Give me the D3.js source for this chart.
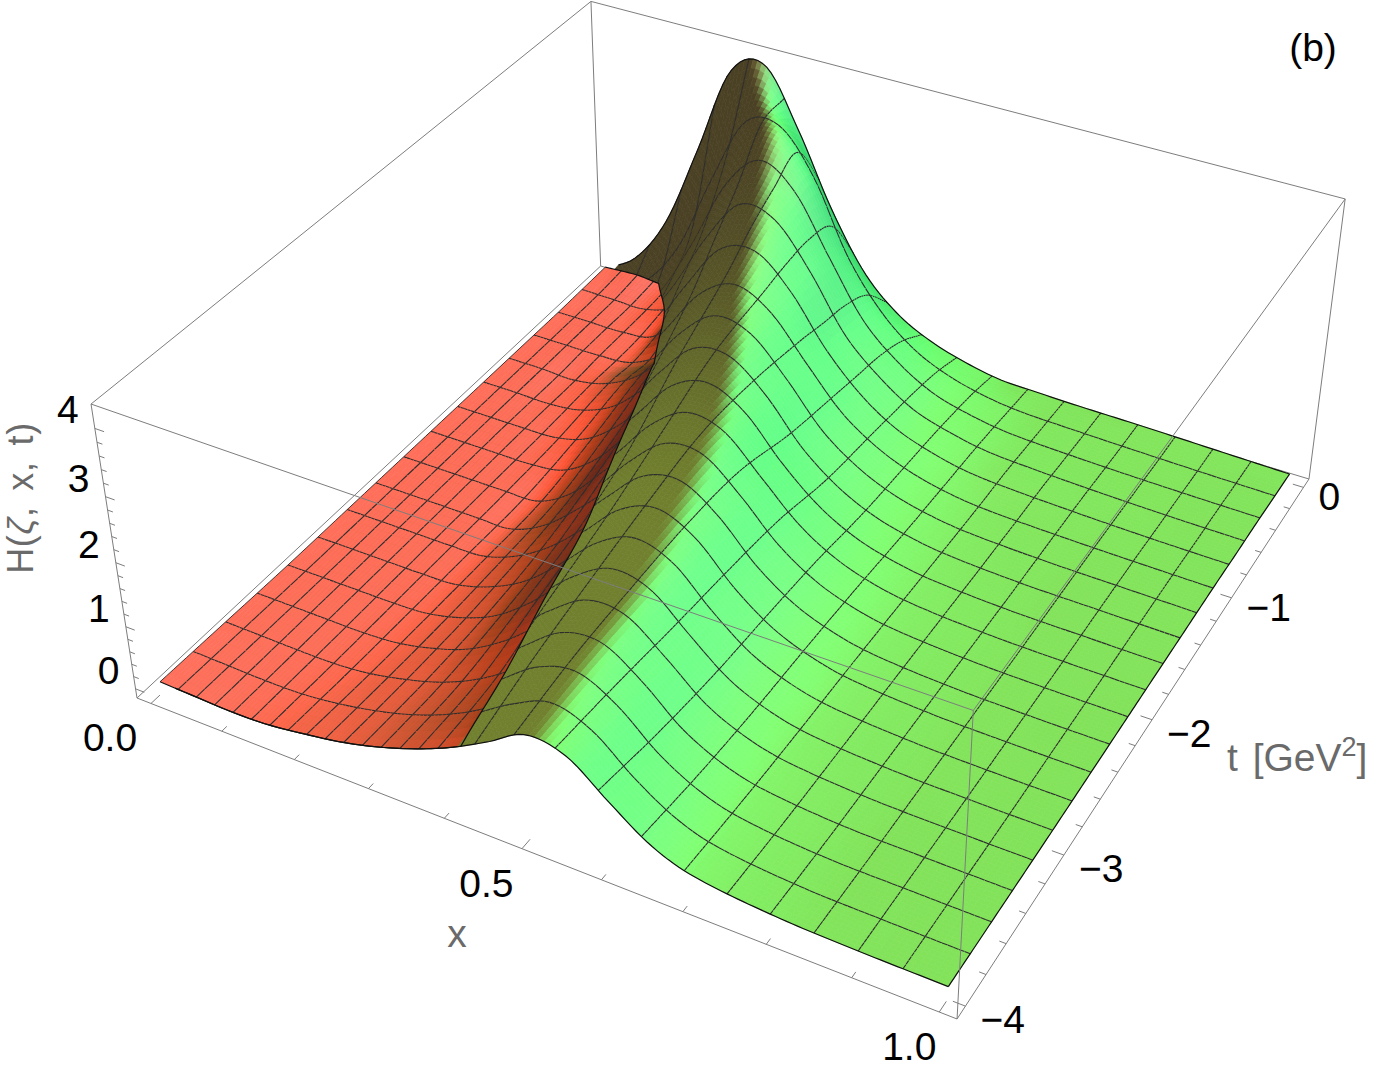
<!DOCTYPE html>
<html>
<head>
<meta charset="utf-8">
<script src="https://cdn.jsdelivr.net/npm/d3@7"></script>
<style>
  html, body { margin: 0; padding: 0; background: #fff; }
  svg { display: block; }
  text { font-family: "Liberation Sans", Arial, sans-serif; }
</style>
</head>
<body>
<div id="div_plot"></div>
<script>
// knots of the height tables
var xKnots = [0, .05, .1, .15, .2, .25, .3, .35, .4, .45, .5, .55, .6, .65, .7, .8, .9, 1];
var tKnots = [0, -.25, -.5, -.75, -1, -1.5, -2, -2.5, -3, -3.5, -4];

// H along x for each t, outer (green) sheet
var green0   = [0, .36, 1.17, 2.53, 3.95, 4.2, 3.3, 2.15, 1.25, .72, .42, .24, .125, .1, .08, .06, .03, 0];
var green025 = [.02, .11, .38, 1.06, 2.28, 3.45, 3.68, 3.08, 1.95, 1.16, .66, .38, .22, .13, .1, .06, .03, .01];
var green05  = [.01, .06, .23, .69, 1.57, 2.62, 3.25, 3, 2.22, 1.34, .82, .46, .28, .17, .12, .07, .04, .02];
var green075 = [0, .03, .16, .48, 1.16, 2.06, 2.8, 2.83, 2.26, 1.45, .9, .52, .32, .19, .14, .08, .04, .02];
var green1   = [0, .02, .09, .3, .77, 1.55, 2.3, 2.58, 2.26, 1.59, .97, .58, .34, .2, .13, .08, .05, .03];
var green15  = [0, 0, .03, .12, .36, .87, 1.57, 2.16, 2.23, 1.8, 1.14, .68, .39, .23, .14, .07, .05, .03];
var green2   = [0, 0, 0, .02, .13, .38, .9, 1.55, 1.99, 1.95, 1.45, .88, .5, .28, .16, .07, .04, .03];
var green25  = [0, 0, 0, .01, .07, .23, .59, 1.11, 1.65, 1.85, 1.57, .99, .56, .31, .17, .07, .04, .03];
var green3   = [0, 0, 0, 0, .05, .14, .39, .83, 1.33, 1.67, 1.58, 1.09, .6, .32, .17, .07, .04, .03];
var green35  = [.02, .01, 0, 0, .05, .17, .3, .57, 1.03, 1.45, 1.56, 1.23, .71, .37, .19, .07, .05, .04];
var green4   = [.04, .02, 0, .02, .1, .2, .35, .55, .8, 1.12, 1.46, 1.36, .9, .47, .24, .1, .06, .05];
var greenRows = [green0, green025, green05, green075, green1, green15, green2, green25, green3, green35, green4];

// inner (red) sheet, its own x knots
var redKnots = [0, .05, .1, .15, .2, .25, .3, .35, .4, .45, .5];
var red0   = [.02, .05, .03, .3, .9, 1.6, 2.2, 2.6, 2.8, 2.9, 3];
var red025 = [.01, 0, 0, .22, .8, 1.5, 2.1, 2.6, 2.8, 2.9, 3];
var red05  = [0, 0, 0, .1, .7, 1.4, 2.1, 2.6, 2.8, 2.9, 3];
var red075 = [0, 0, 0, .05, .37, 1, 1.7, 2.2, 2.5, 2.7, 2.8];
var red1   = [0, 0, -.02, .1, .42, 1, 1.6, 2.1, 2.4, 2.6, 2.7];
var red15  = [0, 0, 0, .02, .2, .65, 1.3, 1.9, 2.2, 2.3, 2.3];
var red2   = [0, 0, 0, 0, .02, .35, .93, 1.5, 1.95, 2, 2];
var red25  = [0, 0, 0, 0, .02, .23, .6, 1.12, 1.7, 1.85, 1.85];
var red3   = [0, 0, 0, 0, .03, .17, .42, .85, 1.38, 1.65, 1.7];
var red35  = [.02, .01, 0, 0, .05, .17, .34, .6, .97, 1.45, 1.55];
var red4   = [.04, .02, 0, .02, .1, .2, .35, .55, .8, 1.12, 1.45];
var redRows = [red0, red025, red05, red075, red1, red15, red2, red25, red3, red35, red4];

// where the red sheet stops and where the dark band ends, one value per t knot
var redEdge = [.085, .13, .16, .188, .22, .262, .305, .345, .3726, .393, .415];
var bandEdge = [.238, .29, .318, .34, .358, .41, .45, .475, .495, .505, .518];

// range of each sheet
var greenXRange = [.0215, 1];
var redXRange = [0, .41];

var xTicks = d3.range(0, 11).map(function(d) { return d / 10; });
var xTickLabels = ["0.0", "0.5", "1.0"];
var tTicks = d3.range(0, 21).map(function(d) { return -d / 5; });
var tTickLabels = ["0", "\u22121", "\u22122", "\u22123", "\u22124"];
var zTicks = d3.range(0, 21).map(function(d) { return d / 5; });
var zTickLabels = ["0", "1", "2", "3", "4"];

var width = 1376, height = 1076;

// plot range with its padding -> unit box
var u = d3.scaleLinear().domain([-.02, 1.02]).range([0, 1]);
var v = d3.scaleLinear().domain([-4.08, .08]).range([0, 1]);
var w = d3.scaleLinear().domain([-.15, 4.35]).range([0, 1]);

// perspective camera fitted on the eight corners of the box
function project(ub, vb, wb) {
  var xh = 709.8 * ub + 592.8 * vb - 52.2 * wb + 137;
  var yh = 203.6 * ub - 374.8 * vb - 321.6 * wb + 698;
  var wh = -.1152 * ub + .215 * vb - .0684 * wb + 1;
  return [xh / wh, yh / wh];
}
function pt(x, t, z) { return project(u(x), v(t), w(z)); }
function line(a, b) { return "M" + a[0].toFixed(2) + "," + a[1].toFixed(2) + "L" + b[0].toFixed(2) + "," + b[1].toFixed(2); }

// smooth curve through a row of read values, knots may be unevenly spaced
function along(values, knots, index, a) {
  var n = values.length, i = Math.max(0, Math.min(n - 2, Math.floor(index(a))));
  function slope(k) {
    var lo = Math.max(0, k - 1), hi = Math.min(n - 1, k + 1);
    return (values[hi] - values[lo]) / (knots[hi] - knots[lo]);
  }
  var h = knots[i + 1] - knots[i], s = (a - knots[i]) / h, s2 = s * s, s3 = s2 * s;
  return (2 * s3 - 3 * s2 + 1) * values[i] + (s3 - 2 * s2 + s) * h * slope(i)
    + (3 * s2 - 2 * s3) * values[i + 1] + (s3 - s2) * h * slope(i + 1);
}
var tIndex = d3.scaleLinear().domain(tKnots).range(d3.range(tKnots.length));
function surface(rows, knots) {
  var xIndex = d3.scaleLinear().domain(knots).range(d3.range(knots.length));
  return function(x, t) {
    return along(rows.map(function(r) { return along(r, knots, xIndex, x); }), tKnots, tIndex, t);
  };
}
function edgeAt(values, t) { return along(values, tKnots, tIndex, t); }

var greenH = surface(greenRows, xKnots);
var redH = surface(redRows, redKnots);

// directions of the lights and the view, as seen from the camera
var view = { r: [.878, .478, 0], up: [-.281, .515, .811], back: [.389, -.713, .585] };
function dot(a, b) { return a[0] * b[0] + a[1] * b[1] + a[2] * b[2]; }
var lightR = [-.15, .3, .94], lightG = [.515, .515, .686], lightB = [.6, .1, .79];
function lights(n) {
  var len = Math.sqrt(dot(n, n));
  var c = [dot(n, view.r) / len, dot(n, view.up) / len, dot(n, view.back) / len];
  return [Math.max(0, dot(c, lightR)), Math.max(0, dot(c, lightG)), Math.max(0, dot(c, lightB)), c[2]];
}
function smooth(a) { a = Math.max(0, Math.min(1, a)); return a * a * (3 - 2 * a); }
function rgb(r, g, b) { return d3.rgb(Math.min(1, r) * 255, Math.min(1, g) * 255, Math.min(1, b) * 255).formatHex(); }

function greenColor(n, x, t) {
  var l = lights(n);
  var r = .54 * (.312 + .8 * l[0]), g = 1.05 * (.188 + .8 * l[1]), b = .6 * (.15 + .8 * l[2]);
  var m = smooth((x - edgeAt(bandEdge, t) + .014) / .028);
  // the dark band goes from brown at the peak to olive at the front
  var a = smooth(-t / 2.6);
  var or = .29 + .15 * a, og = .25 + .25 * a, ob = .14 + .04 * a;
  return rgb(or + (r - or) * m, og + (g - og) * m, ob + (b - ob) * m);
}
function redColor(n) {
  var l = lights(n);
  return rgb(1.1 * (.312 + .8 * l[0]) * (.55 + .45 * smooth((l[3] - .15) / .4)),
    .52 * (.25 + .72 * l[1]),
    .6 * (.18 + .75 * l[2]));
}

// one sheet, far cells first, with the mesh edges drawn after the cells that touch them
function sheet(H, xRange, cells, subX, subT, colorOf) {
  var nx = cells * subX, nt = cells * subT, items = [];
  var xs = d3.range(nx + 1).map(function(i) { return xRange[0] + (xRange[1] - xRange[0]) * i / nx; });
  var ts = d3.range(nt + 1).map(function(j) { return -4 * j / nt; });
  var z = ts.map(function(t) { return xs.map(function(x) { return H(x, t); }); });
  var p = ts.map(function(t, j) { return xs.map(function(x, i) { return pt(x, t, z[j][i]); }); });
  var du = u(xs[1]) - u(xs[0]), dv = v(ts[1]) - v(ts[0]), zs = .4 * (w(1) - w(0));
  for (var j = 0; j < nt; j++) {
    for (var i = 0; i < nx; i++) {
      var a = p[j][i], b = p[j][i + 1], c = p[j + 1][i + 1], d = p[j + 1][i];
      var n = [-zs * (z[j][i + 1] + z[j + 1][i + 1] - z[j][i] - z[j + 1][i]) / 2 / du,
               -zs * (z[j + 1][i] + z[j + 1][i + 1] - z[j][i] - z[j][i + 1]) / 2 / dv, 1];
      var fill = colorOf(n, (xs[i] + xs[i + 1]) / 2, (ts[j] + ts[j + 1]) / 2);
      var dd = "M" + [a, b, c, d].map(function(q) { return q[0].toFixed(2) + "," + q[1].toFixed(2); }).join("L") + "Z";
      items.push({ d: dd, fill: fill, stroke: fill, sw: .7 });
      if (j % subT == 0 && j > 0) items.push({ d: line(a, b), fill: "none", stroke: "#2e2e2e", sw: 1.1 });
      if (i % subX == 0 && i > 0) items.push({ d: line(a, d), fill: "none", stroke: "#2e2e2e", sw: 1.1 });
    }
  }
  return { items: items, p: p };
}

var svg = d3.select("#div_plot").append("svg")
  .attr("id", "svg_plot")
  .attr("width", width)
  .attr("height", height);

function drawItems(g, items) {
  g.selectAll("path").data(items).enter().append("path")
    .attr("d", function(d) { return d.d; })
    .attr("fill", function(d) { return d.fill; })
    .attr("stroke", function(d) { return d.stroke; })
    .attr("stroke-width", function(d) { return d.sw; });
}

var boxColor = "#7d7d7d";
function boxEdge(g, a, b) {
  g.append("path").attr("d", line(project(a[0], a[1], a[2]), project(b[0], b[1], b[2])))
    .attr("stroke", boxColor).attr("stroke-width", 1).attr("fill", "none");
}

// back of the box
var back = svg.append("g");
boxEdge(back, [0, 0, 0], [0, 1, 0]);
boxEdge(back, [0, 1, 0], [1, 1, 0]);
boxEdge(back, [0, 0, 1], [0, 1, 1]);
boxEdge(back, [0, 1, 1], [1, 1, 1]);
boxEdge(back, [0, 1, 0], [0, 1, 1]);
boxEdge(back, [0, 0, 0], [0, 0, 1]);
boxEdge(back, [1, 1, 0], [1, 1, 1]);
boxEdge(back, [0, 0, 0], [1, 0, 0]);
boxEdge(back, [1, 0, 0], [1, 1, 0]);

// green sheet
var curve = d3.line().curve(d3.curveLinear);
var gs = sheet(greenH, greenXRange, 19, 8, 8, greenColor);
drawItems(svg.append("g"), gs.items);
var outline = svg.append("g").attr("fill", "none").attr("stroke", "#111").attr("stroke-width", 1.2);
outline.append("path").attr("d", curve(gs.p[0]));
outline.append("path").attr("d", curve(gs.p[gs.p.length - 1]));
outline.append("path").attr("d", curve(gs.p.map(function(r) { return r[r.length - 1]; })));

// red sheet, cut along its edge
var fineT = d3.range(0, 81).map(function(j) { return -4 * j / 80; });
var edgePts = fineT.map(function(t) { var x = edgeAt(redEdge, t); return pt(x, t, redH(x, t)); });
var topPts = d3.range(0, 21).map(function(i) { var x = edgeAt(redEdge, 0) * i / 20; return pt(x, 0, redH(x, 0)); });
var botPts = d3.range(20, -1, -1).map(function(i) { var x = edgeAt(redEdge, -4) * i / 20; return pt(x, -4, redH(x, -4)); });
var leftPts = fineT.slice().reverse().map(function(t) { return pt(0, t, redH(0, t)); });
svg.append("clipPath").attr("id", "redClip").append("path")
  .attr("d", curve(topPts.concat(edgePts, botPts, leftPts)) + "Z");
var rs = sheet(redH, redXRange, 16, 5, 4, redColor);
drawItems(svg.append("g").attr("clip-path", "url(#redClip)"), rs.items);
outline.append("path").attr("d", curve(topPts.concat(edgePts, botPts)));
outline.append("path").attr("d", curve(leftPts)).attr("stroke-width", .8);
outline.raise();

// front of the box, over the surface
var front = svg.append("g");
boxEdge(front, [0, 0, 1], [1, 0, 1]);
boxEdge(front, [1, 0, 1], [1, 1, 1]);
boxEdge(front, [1, 0, 0], [1, 0, 1]);

// ticks
var ticks = svg.append("g").attr("stroke", boxColor).attr("stroke-width", 1).attr("fill", "none");
xTicks.forEach(function(d, i) {
  var len = i % 5 == 0 ? .016 : .009;
  ticks.append("path").attr("d", line(project(u(d), 0, 0), project(u(d), len, 0)));
});
tTicks.forEach(function(d, i) {
  var len = i % 5 == 0 ? .0136 : .0075;
  ticks.append("path").attr("d", line(project(1, v(d), 0), project(1 - len, v(d), 0)));
});
zTicks.forEach(function(d, i) {
  var len = i % 5 == 0 ? .012 : .007;
  ticks.append("path").attr("d", line(project(0, 0, w(d)), project(len, 0, w(d))));
});

// tick labels
var labels = svg.append("g").attr("font-size", 39).attr("fill", "#000");
xTickLabels.forEach(function(s) {
  var q = project(u(+s), 0, 0);
  labels.append("text").attr("x", q[0] - 41 + 11 * s).attr("y", q[1] + 48).attr("text-anchor", "middle").text(s);
});
tTickLabels.forEach(function(s) {
  var val = +s.replace("\u2212", "-");
  var q = project(1, v(val), 0);
  labels.append("text").attr("x", q[0] + 15).attr("y", q[1] + (val > -1.5 ? 23 : 27)).text(s);
});
zTickLabels.forEach(function(s) {
  var q = project(0, 0, w(+s));
  labels.append("text").attr("x", q[0] - 27).attr("y", q[1] - 5).attr("text-anchor", "middle").text(s);
});

// axis labels
var axisLabels = svg.append("g").attr("font-size", 39).attr("fill", "#6a6a6a");
axisLabels.append("text").attr("x", 457).attr("y", 947).attr("text-anchor", "middle").text("x");
var tLab = axisLabels.append("text").attr("x", 1227).attr("y", 771).attr("word-spacing", 4);
tLab.append("tspan").text("t [GeV");
tLab.append("tspan").attr("font-size", 27).attr("dy", -15).text("2");
tLab.append("tspan").attr("dy", 15).text("]");
var hLab = axisLabels.append("text").attr("transform", "translate(33,498) rotate(-90)")
  .attr("text-anchor", "middle").attr("font-size", 36).attr("word-spacing", 5).attr("letter-spacing", .7);
hLab.append("tspan").text("H(");
hLab.append("tspan").attr("font-style", "italic").text("\u03b6");
hLab.append("tspan").text(", x, t)");

svg.append("text").attr("x", 1313).attr("y", 61).attr("text-anchor", "middle").attr("font-size", 39).attr("fill", "#000").text("(b)");
</script>
</body>
</html>
